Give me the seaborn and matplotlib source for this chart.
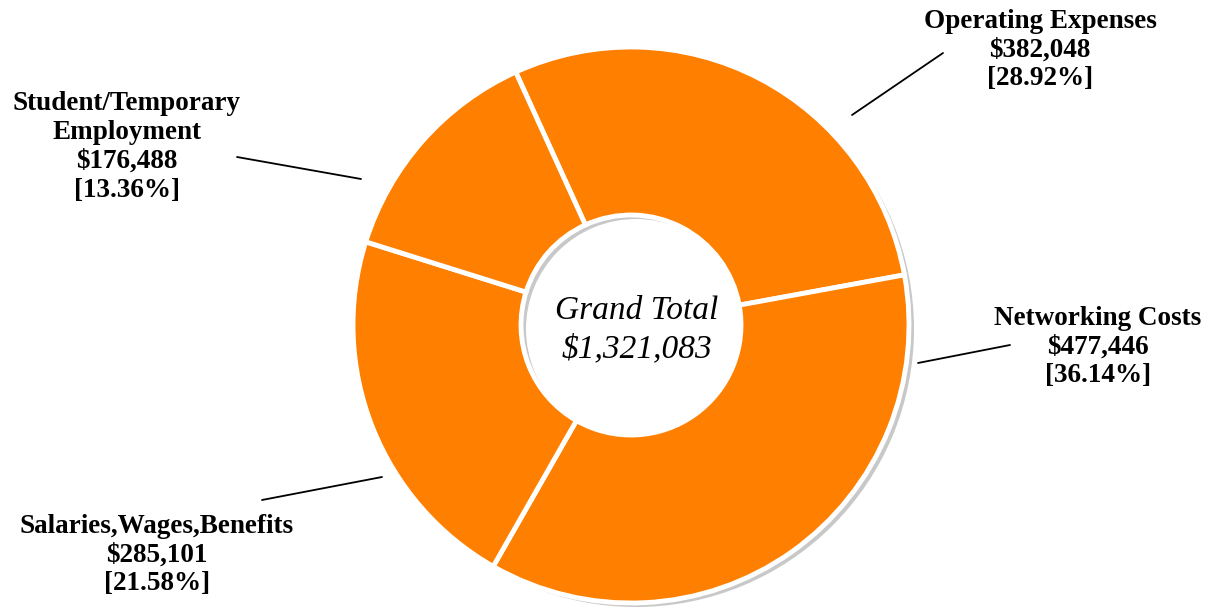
import matplotlib
matplotlib.use("Agg")
import matplotlib.pyplot as plt
import seaborn as sns

sns.set_theme(style="white")
plt.rcParams['font.family'] = ['Liberation Serif', 'DejaVu Serif']

categories = ["Operating Expenses", "Networking Costs", "Salaries,Wages,Benefits", "Student/Temporary\nEmployment"]
values = [382048, 477446, 285101, 176488]
percents = ["28.92%", "36.14%", "21.58%", "13.36%"]
grand_total = "$1,321,083"

W, H = 1217, 608
fig = plt.figure(figsize=(W / 100, H / 100), dpi=100)
ax = fig.add_axes([0, 0, 1, 1])

cx, cy = 631, H - 325
R = 278
width = R - 110
orange = "#FF7F00"

# shadow ring
ax.pie([1], radius=R, center=(cx + 5, cy - 4), colors=["#c8c8c8"],
       wedgeprops=dict(width=width, linewidth=0), frame=True)
ax.pie(values, radius=R, center=(cx, cy), colors=[orange] * 4,
       startangle=114.5, counterclock=False,
       wedgeprops=dict(width=width, edgecolor="white", linewidth=3.5), frame=True)
ax.set_xlim(0, W)
ax.set_ylim(0, H)
ax.set_aspect("equal")
ax.axis("off")

labels = [f"{c}\n${v:,.0f}\n[{p}]" for c, v, p in zip(categories, values, percents)]
label_pos = [(1040, H - 50), (1098, H - 347), (157, H - 555), (127, H - 147)]
lines = [((852, 115), (943, 53)), ((918, 363), (1010, 345)),
         ((262, 500), (382, 477)), ((237, 157), (361, 179))]

for lab, (x, y), (p1, p2) in zip(labels, label_pos, lines):
    ax.text(x, y, lab, ha="center", va="center", fontsize=19.5, fontweight="bold",
            linespacing=1.2, color="black")
    ax.plot([p1[0], p2[0]], [H - p1[1], H - p2[1]], color="black", lw=1.3)

ax.text(637, H - 330, "Grand Total\n" + grand_total, ha="center", va="center",
        fontsize=24, style="italic", linespacing=1.3, color="black")

fig.savefig("out.png", dpi=100)
